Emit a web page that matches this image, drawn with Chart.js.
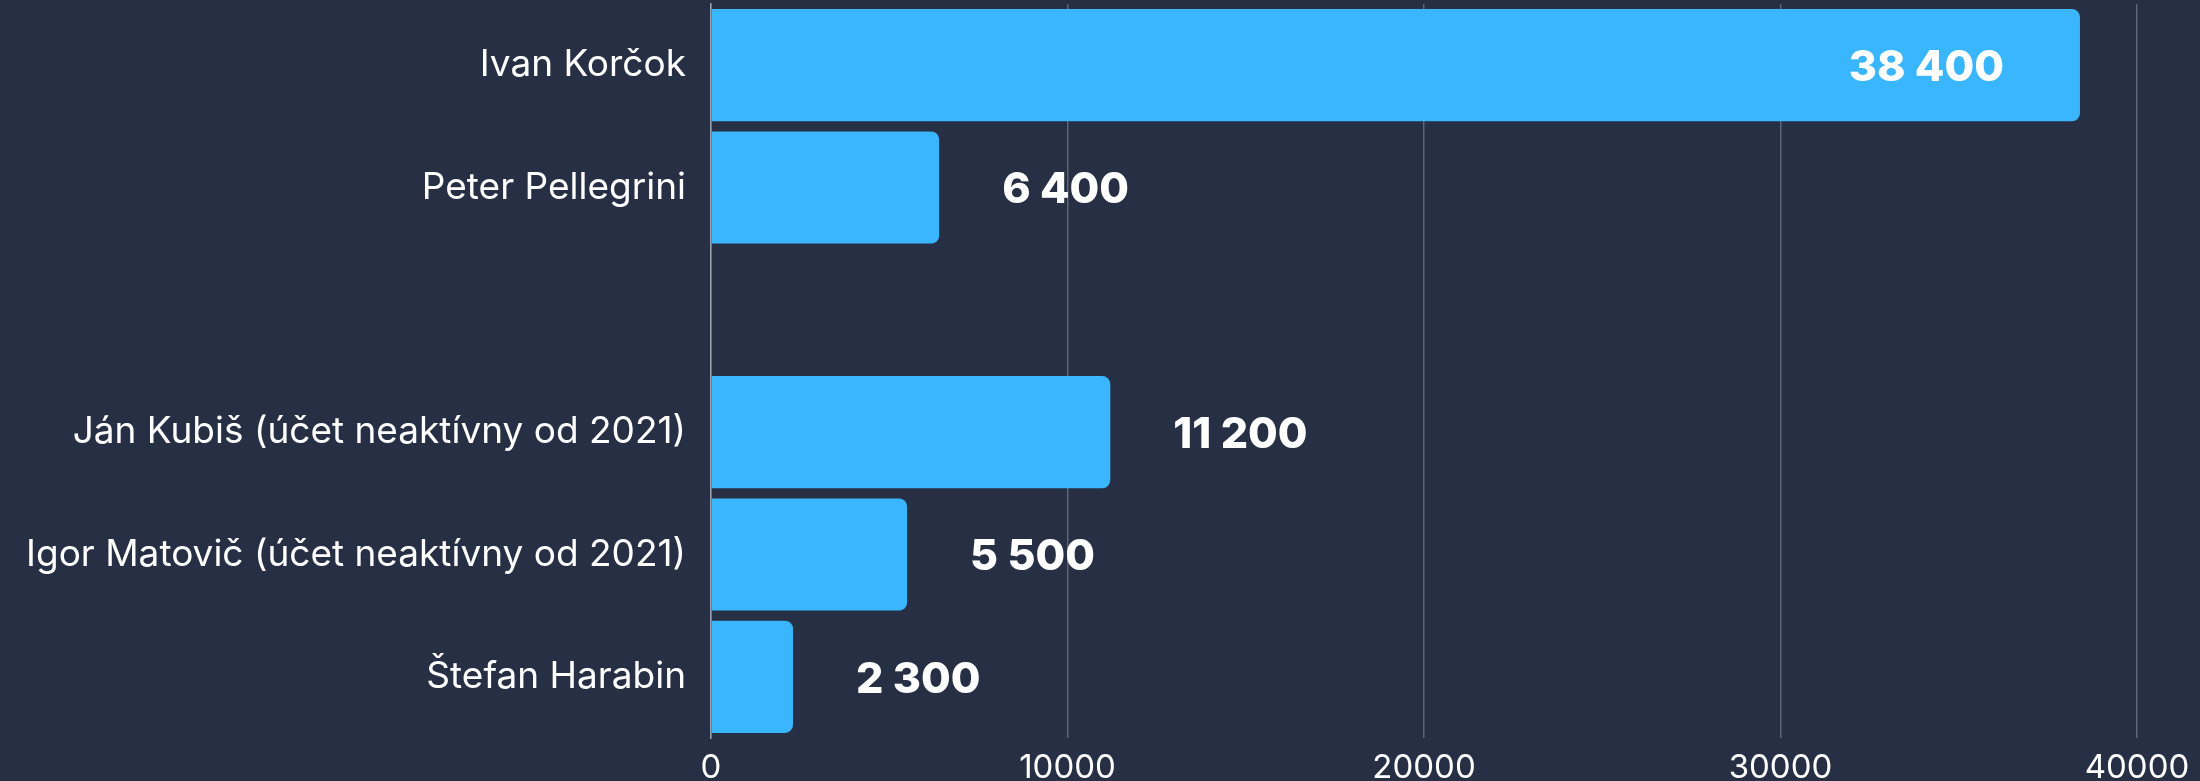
<!DOCTYPE html>
<html>
<head>
<meta charset="utf-8">
<script src="https://cdn.jsdelivr.net/npm/chart.js@4/dist/chart.umd.min.js"></script>
<style>
html,body{margin:0;padding:0;background:#262f44;}
#wrap{width:2200px;height:781px;position:relative;}
</style>
</head>
<body>
<div id="wrap"><canvas id="c" width="2200" height="781"></canvas></div>
<script>
const categories = ['Ivan Korčok', 'Peter Pellegrini', '', 'Ján Kubiš (účet neaktívny od 2021)', 'Igor Matovič (účet neaktívny od 2021)', 'Štefan Harabin'];
const values = [38400, 6400, null, 11200, 5500, 2300];
const valueLabels = ['38 400', '6 400', '', '11 200', '5 500', '2 300'];
const xTicks = [0, 10000, 20000, 30000, 40000];

const valueLabelPlugin = {
  id: 'valueLabels',
  afterDatasetsDraw(chart) {
    const ctx = chart.ctx;
    const meta = chart.getDatasetMeta(0);
    ctx.save();
    ctx.font = '800 43px Inter';
    ctx.fillStyle = '#ffffff';
    ctx.textBaseline = 'middle';
    meta.data.forEach((bar, i) => {
      const txt = valueLabels[i];
      if (!txt || values[i] == null) return;
      const w = ctx.measureText(txt).width;
      const gap = 63;
      if (bar.x + gap + w > chart.chartArea.right - 20) {
        ctx.textAlign = 'right';
        ctx.fillText(txt, bar.x - 76, bar.y + 3);
      } else {
        ctx.textAlign = 'left';
        ctx.fillText(txt, bar.x + gap, bar.y + 3);
      }
    });
    ctx.restore();
  }
};

new Chart(document.getElementById('c'), {
  type: 'bar',
  data: {
    labels: categories,
    datasets: [{
      data: values,
      backgroundColor: '#3ab6ff',
      borderRadius: 8,
      borderSkipped: 'start',
      categoryPercentage: 1,
      barPercentage: 0.917
    }]
  },
  options: {
    indexAxis: 'y',
    responsive: false,
    animation: false,
    devicePixelRatio: 1,
    layout: { padding: { top: 4, right: 63, left: 0, bottom: 0 } },
    plugins: { legend: { display: false }, tooltip: { enabled: false } },
    scales: {
      x: {
        min: 0,
        max: 40000,
        afterBuildTicks(scale) { scale.ticks = xTicks.map(v => ({ value: v })); },
        afterFit(scale) { scale.height = 43; scale.paddingLeft = 0; scale.paddingRight = 0; },
        grid: { color: '#5e6574', lineWidth: 1.5, drawTicks: false },
        border: { display: false },
        ticks: {
          color: '#ffffff',
          font: { family: 'Inter', size: 33 },
          padding: 10,
          maxRotation: 0,
          callback: v => String(v)
        }
      },
      y: {
        grid: { display: false },
        border: { display: true, color: '#9aa0aa', width: 1.5 },
        afterFit(scale) { scale.width = 711; scale.paddingTop = 0; scale.paddingBottom = 0; },
        ticks: {
          color: '#ffffff',
          font: { family: 'Inter', size: 37 },
          padding: 17
        }
      }
    }
  },
  plugins: [valueLabelPlugin]
});
</script>
</body>
</html>
